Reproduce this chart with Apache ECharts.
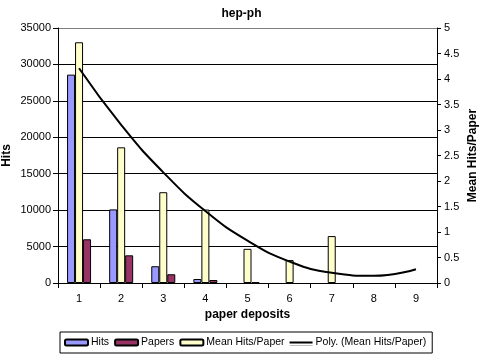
<!DOCTYPE html>
<html>
<head>
<meta charset="utf-8">
<script src="https://cdn.jsdelivr.net/npm/echarts@6/dist/echarts.min.js"></script>
<style>
html,body{margin:0;padding:0;background:#fff;}
#c{width:483px;height:359px;}
</style>
</head>
<body>
<div id="c"></div>
<script>
var categories = ['1','2','3','4','5','6','7','8','9'];
var hits = [28600, 10100, 2300, 550, null, null, null, null, null];
var papers = [6000, 3800, 1200, 410, 90, null, null, null, null];
var meanHitsPerPaper = [4.72, 2.66, 1.78, 1.44, 0.67, 0.45, 0.92, null, null];
var polyTrend = [4.21, 3.10, 2.17, 1.41, 0.83, 0.42, 0.20, 0.14, 0.27];

var FONT = '"Liberation Sans", Arial, sans-serif';
var chart = echarts.init(document.getElementById('c'), null, {renderer: 'canvas'});
var barBorder = {borderColor: '#000', borderWidth: 1};
var lineIcon = 'path://M0,0h24v0.01h-24z M0,2h24v2h-24z M0,5.99h24v0.01h-24z';

chart.setOption({
  backgroundColor: '#fff',
  animation: false,
  textStyle: {fontFamily: FONT, color: '#000'},
  title: {
    text: 'hep-ph', left: 'center', top: 3,
    textStyle: {fontFamily: FONT, fontSize: 12, fontWeight: 'bold', color: '#000'}
  },
  legend: {
    data: ['Hits', 'Papers', 'Mean Hits/Paper',
      {name: 'Poly. (Mean Hits/Paper)', icon: lineIcon, itemStyle: {color: '#000', borderWidth: 0}}],
    left: 60, top: 332,
    padding: [5, 6, 5, 4],
    borderColor: '#000', borderWidth: 1, backgroundColor: '#fff',
    itemWidth: 23, itemHeight: 6, itemGap: 5,
    textStyle: {fontFamily: FONT, fontSize: 10.5, color: '#000', padding: [0, 0, 0, -2]}
  },
  grid: {left: 58, right: 46, top: 28, bottom: 76, containLabel: false, outerBoundsMode: 'none'},
  xAxis: {
    type: 'category', data: categories,
    name: 'paper deposits', nameLocation: 'middle', nameGap: 26, nameMoveOverlap: false,
    nameTextStyle: {fontFamily: FONT, fontSize: 12, fontWeight: 'bold', color: '#000'},
    axisLine: {lineStyle: {color: '#000', width: 1}},
    axisTick: {show: true, length: 5, lineStyle: {color: '#000'}},
    axisLabel: {fontFamily: FONT, fontSize: 11, color: '#000', margin: 10}
  },
  yAxis: [{
    type: 'value', min: 0, max: 35000, interval: 5000, position: 'left',
    name: 'Hits', nameLocation: 'middle', nameGap: 45, nameRotate: 90, nameMoveOverlap: false,
    nameTextStyle: {fontFamily: FONT, fontSize: 12, fontWeight: 'bold', color: '#000', verticalAlign: 'bottom'},
    axisLine: {show: true, lineStyle: {color: '#000'}},
    axisTick: {show: true, length: 5, lineStyle: {color: '#000'}},
    axisLabel: {fontFamily: FONT, fontSize: 11, color: '#000', margin: 7,
      formatter: function (v) { return String(v); }},
    splitLine: {show: true, lineStyle: {color: ['#000','#000','#000','#000','#000','#000','#000','#808080'], width: 1}}
  }, {
    type: 'value', min: 0, max: 5, interval: 0.5, position: 'right',
    name: 'Mean Hits/Paper', nameLocation: 'middle', nameGap: 30, nameRotate: 90, nameMoveOverlap: false,
    nameTextStyle: {fontFamily: FONT, fontSize: 12, fontWeight: 'bold', color: '#000', verticalAlign: 'top'},
    axisLine: {show: true, lineStyle: {color: '#000'}},
    axisTick: {show: true, length: 4, lineStyle: {color: '#000'}},
    axisLabel: {fontFamily: FONT, fontSize: 11, color: '#000', margin: 7,
      formatter: function (v) { return String(v); }},
    splitLine: {show: false}
  }],
  series: [{
    name: 'Hits', type: 'bar', yAxisIndex: 0, data: hits,
    barWidth: 8, barGap: '0%',
    itemStyle: Object.assign({color: '#9999FF'}, barBorder)
  }, {
    name: 'Mean Hits/Paper', type: 'bar', yAxisIndex: 1, data: meanHitsPerPaper,
    barWidth: 8, barGap: '0%',
    itemStyle: Object.assign({color: '#FFFFCC'}, barBorder)
  }, {
    name: 'Papers', type: 'bar', yAxisIndex: 0, data: papers,
    barWidth: 8, barGap: '0%',
    itemStyle: Object.assign({color: '#993366'}, barBorder)
  }, {
    name: 'Poly. (Mean Hits/Paper)', type: 'line', yAxisIndex: 1, data: polyTrend,
    smooth: true, symbol: 'none',
    lineStyle: {color: '#000', width: 2},
    itemStyle: {color: '#000'}
  }]
});
</script>
</body>
</html>
